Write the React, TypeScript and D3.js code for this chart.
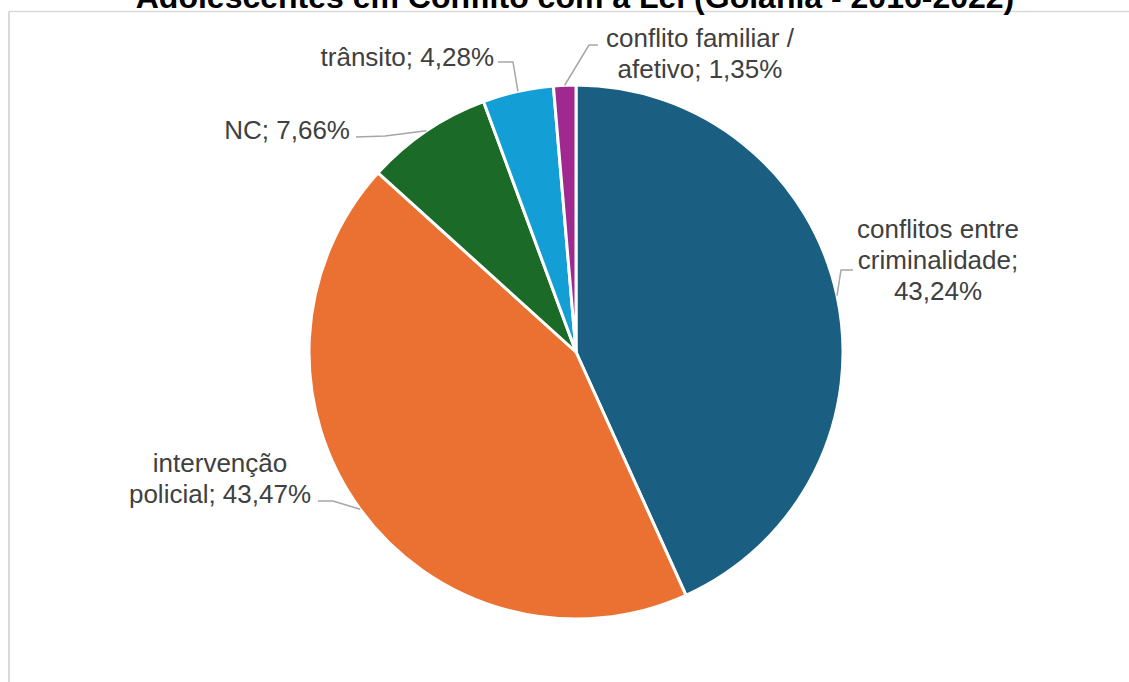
import React from "react";
import * as d3 from "d3";

const title = "Adolescentes em Conflito com a Lei (Goiânia - 2016-2022)";
const categories = [
  "conflitos entre criminalidade",
  "intervenção policial",
  "NC",
  "trânsito",
  "conflito familiar / afetivo",
];
const values = [43.24, 43.47, 7.66, 4.28, 1.35];
const labelLines = [
  ["conflitos entre", "criminalidade;", "43,24%"],
  ["intervenção", "policial; 43,47%"],
  ["NC; 7,66%"],
  ["trânsito; 4,28%"],
  ["conflito familiar /", "afetivo; 1,35%"],
];
const colors = ["#1a5f81", "#ea7131", "#1c6a27", "#139fd6", "#a0298f"];

// label layout relative to pie center: first baseline anchor, alignment, and leader elbows
const layout = [
  { tx: 362, ty: -114, anchor: "middle", leader: [[265, -82], [277, -82]] },
  { tx: -356, ty: 120, anchor: "middle", leader: [[-243, 149], [-258, 149]] },
  { tx: -226, ty: -213, anchor: "end", leader: [[-191, -216], [-220, -215]] },
  { tx: -82, ty: -286, anchor: "end", leader: [[-63, -290], [-78, -290]] },
  { tx: 124, ty: -305, anchor: "middle", leader: [[13, -307], [22, -307]] },
];

export default function App() {
  const W = 1129, H = 682;
  const cx = 576, cy = 352, r = 267;
  const fontSize = 26;
  const lineH = 31;
  const pie = d3.pie<number>().sort(null).value((d) => d)(values);
  const arc = d3.arc<d3.PieArcDatum<number>>().innerRadius(0).outerRadius(r);

  return (
    <svg width={W} height={H} style={{ position: "absolute", left: 0, top: 0, background: "#fff" }}
      fontFamily="'Liberation Sans', Arial, sans-serif">
      <rect x={0} y={0} width={W} height={H} fill="#fff" />
      <line x1={9} y1={11.5} x2={W} y2={11.5} stroke="#d9d9d9" strokeWidth={1.5} />
      <line x1={9} y1={11.5} x2={9} y2={H} stroke="#d9d9d9" strokeWidth={2} />
      <text x={575} y={8} textAnchor="middle" fontSize={32} fontWeight="bold" fill="#000">{title}</text>
      <g transform={`translate(${cx},${cy})`}>
        {pie.map((p, i) => (
          <path key={categories[i]} d={arc(p) || ""} fill={colors[i]} stroke="#fff" strokeWidth={3} strokeLinejoin="round" />
        ))}
        {pie.map((p, i) => {
          const mid = (p.startAngle + p.endAngle) / 2;
          const sx = r * Math.sin(mid);
          const sy = -r * Math.cos(mid);
          const L = layout[i];
          const pts = [[sx, sy], ...L.leader];
          const lines = labelLines[i];
          return (
            <g key={"lab" + i}>
              <polyline points={pts.map((q) => q.join(",")).join(" ")} fill="none" stroke="#a6a6a6" strokeWidth={1.5} />
              <text textAnchor={L.anchor as any} fontSize={fontSize} fill="#404040">
                {lines.map((t, j) => (
                  <tspan key={j} x={L.tx} y={L.ty + j * lineH}>{t}</tspan>
                ))}
              </text>
            </g>
          );
        })}
      </g>
    </svg>
  );
}
